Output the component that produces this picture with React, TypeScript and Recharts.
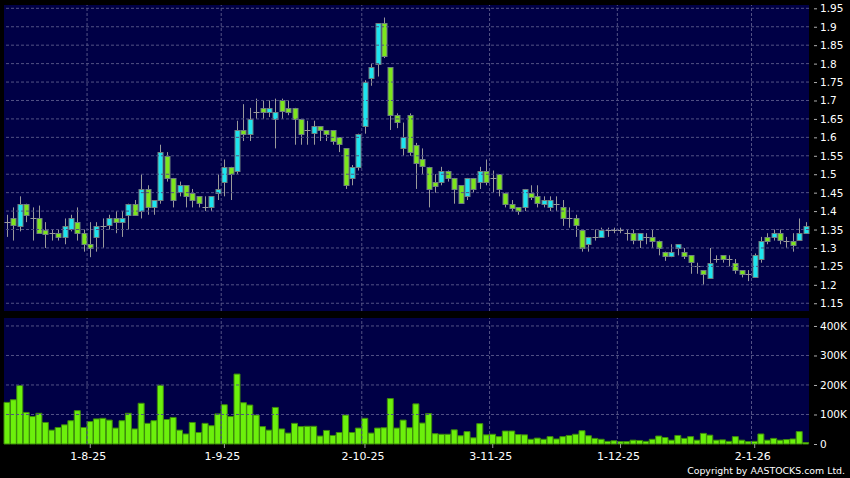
import { ComposedChart, Bar, XAxis, YAxis, CartesianGrid, ReferenceLine } from 'recharts';

// trading days shown, by month (d-m-yy labels are built from these)
const julDays = [15, 16, 17, 18, 21, 22, 23, 24, 25, 28, 29, 30, 31];
const augDays = [1, 4, 5, 6, 7, 8, 11, 12, 13, 14, 15, 18, 19, 20, 21, 22, 25, 26, 27, 28, 29];
const sepDays = [1, 2, 3, 4, 5, 8, 9, 10, 11, 12, 15, 16, 17, 18, 19, 22, 23, 24, 25, 26, 29, 30];
const octDays = [2, 3, 6, 8, 9, 10, 13, 14, 15, 16, 17, 20, 21, 22, 23, 24, 27, 28, 30, 31];
const novDays = [3, 4, 5, 6, 7, 10, 11, 12, 13, 14, 17, 18, 19, 20, 21, 24, 25, 26, 27, 28];
const decDays = [1, 2, 3, 4, 5, 8, 9, 10, 11, 12, 15, 16, 17, 18, 19, 22, 23, 24, 29, 30, 31];
const janDays = [2, 5, 6, 7, 8, 9, 12, 13, 14];

const monthTicks = ['1-8-25', '1-9-25', '2-10-25', '3-11-25', '1-12-25', '2-1-26'];
const priceTicks = [1.15, 1.2, 1.25, 1.3, 1.35, 1.4, 1.45, 1.5, 1.55, 1.6, 1.65, 1.7, 1.75, 1.8, 1.85, 1.9, 1.95];
const volumeTicks = [0, 100000, 200000, 300000, 400000];

const opens = [
  1.37, 1.38, 1.36, 1.42, 1.38, 1.38, 1.35, 1.34, 1.34, 1.33,
  1.35, 1.37, 1.34, 1.31, 1.33, 1.36, 1.36, 1.38, 1.37, 1.39,
  1.42, 1.40, 1.46, 1.41, 1.43, 1.55, 1.49, 1.45, 1.47, 1.45,
  1.44, 1.41, 1.41, 1.45, 1.48, 1.52, 1.51, 1.62, 1.61, 1.67,
  1.68, 1.67, 1.65, 1.70, 1.68, 1.68, 1.65, 1.62, 1.61, 1.63,
  1.62, 1.62, 1.60, 1.57, 1.49, 1.52, 1.63, 1.76, 1.80, 1.91,
  1.79, 1.66, 1.57, 1.66, 1.58, 1.54, 1.52, 1.48, 1.48, 1.51,
  1.49, 1.47, 1.44, 1.49, 1.48, 1.51, 1.49, 1.50, 1.45, 1.42,
  1.41, 1.41, 1.45, 1.44, 1.42, 1.41, 1.42, 1.41, 1.38, 1.38,
  1.35, 1.31, 1.33, 1.33, 1.35, 1.35, 1.35, 1.34, 1.34, 1.32,
  1.33, 1.33, 1.32, 1.29, 1.28, 1.30, 1.29, 1.28, 1.25, 1.24,
  1.22, 1.27, 1.28, 1.27, 1.26, 1.24, 1.23, 1.22, 1.27, 1.33,
  1.33, 1.34, 1.32, 1.32, 1.32, 1.34,
];
const highs = [
  1.39, 1.41, 1.44, 1.42, 1.41, 1.415, 1.37, 1.35, 1.35, 1.38,
  1.39, 1.41, 1.35, 1.37, 1.37, 1.38, 1.39, 1.40, 1.40, 1.42,
  1.43, 1.50, 1.47, 1.43, 1.58, 1.56, 1.49, 1.48, 1.47, 1.46,
  1.44, 1.44, 1.44, 1.50, 1.54, 1.52, 1.645, 1.69, 1.68, 1.705,
  1.70, 1.70, 1.705, 1.705, 1.70, 1.68, 1.65, 1.645, 1.645, 1.63,
  1.62, 1.62, 1.60, 1.57, 1.525, 1.61, 1.755, 1.80, 1.91, 1.925,
  1.79, 1.665, 1.64, 1.665, 1.585, 1.57, 1.52, 1.50, 1.52, 1.51,
  1.49, 1.47, 1.49, 1.49, 1.52, 1.54, 1.51, 1.50, 1.45, 1.43,
  1.41, 1.46, 1.47, 1.47, 1.44, 1.44, 1.44, 1.43, 1.41, 1.39,
  1.35, 1.33, 1.35, 1.355, 1.355, 1.355, 1.355, 1.35, 1.35, 1.34,
  1.34, 1.35, 1.32, 1.29, 1.31, 1.31, 1.30, 1.28, 1.26, 1.24,
  1.30, 1.28, 1.28, 1.28, 1.27, 1.24, 1.24, 1.285, 1.33, 1.34,
  1.35, 1.35, 1.33, 1.34, 1.38, 1.37,
];
const lows = [
  1.33, 1.32, 1.345, 1.37, 1.32, 1.34, 1.30, 1.32, 1.32, 1.31,
  1.345, 1.32, 1.29, 1.275, 1.29, 1.30, 1.35, 1.34, 1.33, 1.35,
  1.39, 1.38, 1.39, 1.39, 1.42, 1.48, 1.41, 1.44, 1.41, 1.41,
  1.41, 1.40, 1.40, 1.43, 1.44, 1.43, 1.50, 1.59, 1.59, 1.65,
  1.65, 1.655, 1.57, 1.65, 1.66, 1.58, 1.58, 1.58, 1.58, 1.59,
  1.59, 1.58, 1.56, 1.46, 1.47, 1.51, 1.61, 1.74, 1.765, 1.815,
  1.62, 1.625, 1.55, 1.55, 1.46, 1.50, 1.41, 1.45, 1.47, 1.48,
  1.42, 1.42, 1.43, 1.45, 1.46, 1.47, 1.45, 1.44, 1.41, 1.40,
  1.39, 1.40, 1.43, 1.41, 1.41, 1.40, 1.40, 1.36, 1.355, 1.33,
  1.29, 1.29, 1.32, 1.33, 1.33, 1.34, 1.34, 1.32, 1.31, 1.30,
  1.31, 1.30, 1.28, 1.265, 1.275, 1.28, 1.27, 1.23, 1.23, 1.20,
  1.22, 1.26, 1.26, 1.25, 1.23, 1.22, 1.21, 1.22, 1.26, 1.31,
  1.32, 1.31, 1.30, 1.29, 1.32, 1.34,
];
const closes = [
  1.37, 1.36, 1.42, 1.39, 1.38, 1.34, 1.34, 1.34, 1.33, 1.36,
  1.38, 1.34, 1.31, 1.30, 1.36, 1.36, 1.38, 1.37, 1.38, 1.42,
  1.39, 1.46, 1.41, 1.43, 1.56, 1.49, 1.43, 1.47, 1.44, 1.43,
  1.42, 1.41, 1.44, 1.46, 1.52, 1.50, 1.62, 1.61, 1.65, 1.67,
  1.67, 1.68, 1.67, 1.67, 1.67, 1.65, 1.61, 1.62, 1.63, 1.62,
  1.61, 1.59, 1.58, 1.47, 1.52, 1.61, 1.75, 1.79, 1.91, 1.82,
  1.66, 1.64, 1.60, 1.56, 1.53, 1.52, 1.46, 1.47, 1.51, 1.49,
  1.46, 1.42, 1.49, 1.46, 1.51, 1.48, 1.49, 1.46, 1.42, 1.41,
  1.40, 1.46, 1.44, 1.42, 1.43, 1.43, 1.42, 1.38, 1.38, 1.36,
  1.30, 1.33, 1.33, 1.35, 1.35, 1.35, 1.35, 1.34, 1.32, 1.34,
  1.33, 1.32, 1.30, 1.28, 1.29, 1.31, 1.28, 1.26, 1.25, 1.23,
  1.26, 1.27, 1.27, 1.27, 1.24, 1.23, 1.23, 1.28, 1.32, 1.32,
  1.34, 1.32, 1.32, 1.31, 1.34, 1.36,
];
// volume in thousands of shares
const volumesK = [
  141, 150, 198, 107, 93, 104, 73, 47, 56, 65,
  79, 113, 56, 76, 85, 87, 81, 54, 79, 104,
  51, 138, 70, 79, 199, 83, 90, 47, 34, 73,
  39, 70, 62, 102, 133, 93, 237, 140, 132, 98,
  59, 47, 124, 51, 37, 70, 59, 60, 60, 27,
  46, 29, 39, 98, 39, 54, 87, 37, 54, 55,
  154, 54, 81, 55, 136, 71, 103, 35, 33, 33,
  48, 28, 42, 21, 69, 31, 33, 25, 44, 44,
  32, 31, 16, 20, 16, 25, 17, 25, 29, 33,
  45, 28, 19, 16, 9, 11, 8, 8, 13, 12,
  9, 16, 27, 22, 13, 29, 19, 25, 13, 36,
  30, 13, 14, 9, 25, 13, 8, 9, 34, 13,
  19, 13, 15, 17, 42, 5,
];

const monthDays: [number[], string][] = [
  [julDays, '7-25'], [augDays, '8-25'], [sepDays, '9-25'], [octDays, '10-25'],
  [novDays, '11-25'], [decDays, '12-25'], [janDays, '1-26'],
];
const dates = monthDays.flatMap(([days, suffix]) => days.map((d) => `${d}-${suffix}`));

const data = dates.map((date, i) => ({
  date,
  open: opens[i],
  high: highs[i],
  low: lows[i],
  close: closes[i],
  range: [lows[i], highs[i]],
  volume: volumesK[i] * 1000,
}));

const NAVY = '#000046';
const GRID = '#525285';
const UP = '#1de4ef';
const DOWN = '#7de61c';
const FONT = '"DejaVu Sans", Verdana, sans-serif';

const Candle = (props: any) => {
  const { x, y, width, height, payload } = props;
  const { open, close, high, low } = payload;
  const cx = Math.round(x + width / 2) + 0.5;
  const k = high > low ? height / (high - low) : 0;
  const yOf = (v: number) => y + (high - v) * k;
  if (open === close) {
    const yy = Math.round(yOf(open)) + 0.5;
    return (
      <g>
        <line x1={cx} x2={cx} y1={y} y2={y + height} stroke="#9a9a9a" />
        <line x1={cx - 3} x2={cx + 3} y1={yy} y2={yy} stroke="#9a9a9a" />
      </g>
    );
  }
  const top = yOf(Math.max(open, close));
  const bot = yOf(Math.min(open, close));
  return (
    <g>
      <line x1={cx} x2={cx} y1={y} y2={y + height} stroke="#9a9a9a" />
      <rect
        x={cx - 2.5}
        y={Math.round(top) + 0.5}
        width={5}
        height={Math.max(Math.round(bot - top), 1)}
        fill={close > open ? UP : DOWN}
        stroke="#6f8080"
      />
    </g>
  );
};

const RightTick = ({ x, y, payload, fmt }: any) => (
  <g>
    <line x1={x + 5} x2={x + 8} y1={y + 0.5} y2={y + 0.5} stroke="#b0b0b0" />
    <text x={x + 11} y={y} dy={4} fill="#ffffff" fontSize={10.5} fontFamily={FONT}>
      {fmt(payload.value)}
    </text>
  </g>
);

const DateTick = ({ x, y, payload }: any) => (
  <text x={x - 2} y={y} dy={10} textAnchor="middle" fill="#ffffff" fontSize={11} fontFamily={FONT}>
    {payload.value}
  </text>
);

const fmtVol = (v: number) => (v === 0 ? '0' : `${v / 1000}K`);

const gridLines = (xs: string[], ys: number[]) => [
  ...ys.map((v) => (
    <ReferenceLine key={`h${v}`} y={v} stroke={GRID} strokeDasharray="3 2" />
  )),
  ...xs.map((m) => (
    <ReferenceLine key={`v${m}`} x={m} position="start" stroke={GRID} strokeDasharray="3 2" />
  )),
];

export default function App() {
  return (
    <div style={{ position: 'absolute', left: 0, top: 0, width: 850, height: 478, background: '#000', overflow: 'hidden' }}>
      <div style={{ position: 'absolute', left: 0, top: 0 }}>
        <ComposedChart width={850} height={312} data={data} margin={{ top: 5, right: 0, bottom: 1, left: 4 }} barCategoryGap={0}>
          <CartesianGrid fill={NAVY} fillOpacity={1} vertical={false} horizontal={false} />
          <XAxis dataKey="date" hide />
          <YAxis
            orientation="right"
            width={41}
            domain={[1.129, 1.959]}
            ticks={priceTicks}
            interval={0}
            axisLine={false}
            tickLine={false}
            tickSize={0}
            tickMargin={0}
            tick={<RightTick fmt={(v: number) => String(v)} />}
          />
          {gridLines(monthTicks, priceTicks)}
          <Bar dataKey="range" shape={<Candle />} isAnimationActive={false} />
        </ComposedChart>
      </div>
      <div style={{ position: 'absolute', left: 0, top: 312 }}>
        <ComposedChart width={850} height={166} data={data} margin={{ top: 6, right: 0, bottom: 0, left: 4 }} barCategoryGap={0}>
          <CartesianGrid fill={NAVY} fillOpacity={1} vertical={false} horizontal={false} />
          <XAxis
            dataKey="date"
            ticks={monthTicks}
            interval={0}
            height={34}
            axisLine={false}
            tickLine={{ stroke: '#9a9a9a' }}
            tickSize={4}
            tickMargin={2}
            tick={<DateTick />}
          />
          <YAxis
            orientation="right"
            width={41}
            domain={[0, 427000]}
            ticks={volumeTicks}
            interval={0}
            axisLine={false}
            tickLine={false}
            tickSize={0}
            tickMargin={0}
            tick={<RightTick fmt={fmtVol} />}
          />
          {gridLines(monthTicks, volumeTicks.filter((v) => v > 0))}
          <Bar dataKey="volume" fill="#6cf00c" stroke="#3d8a0c" barSize={6} isAnimationActive={false} />
        </ComposedChart>
      </div>
      <svg width={850} height={478} style={{ position: 'absolute', left: 0, top: 0, pointerEvents: 'none' }}>
        <text x={845} y={474} textAnchor="end" fill="#ffffff" fontSize={9.4} fontFamily={FONT}>
          Copyright by AASTOCKS.com Ltd.
        </text>
      </svg>
    </div>
  );
}
